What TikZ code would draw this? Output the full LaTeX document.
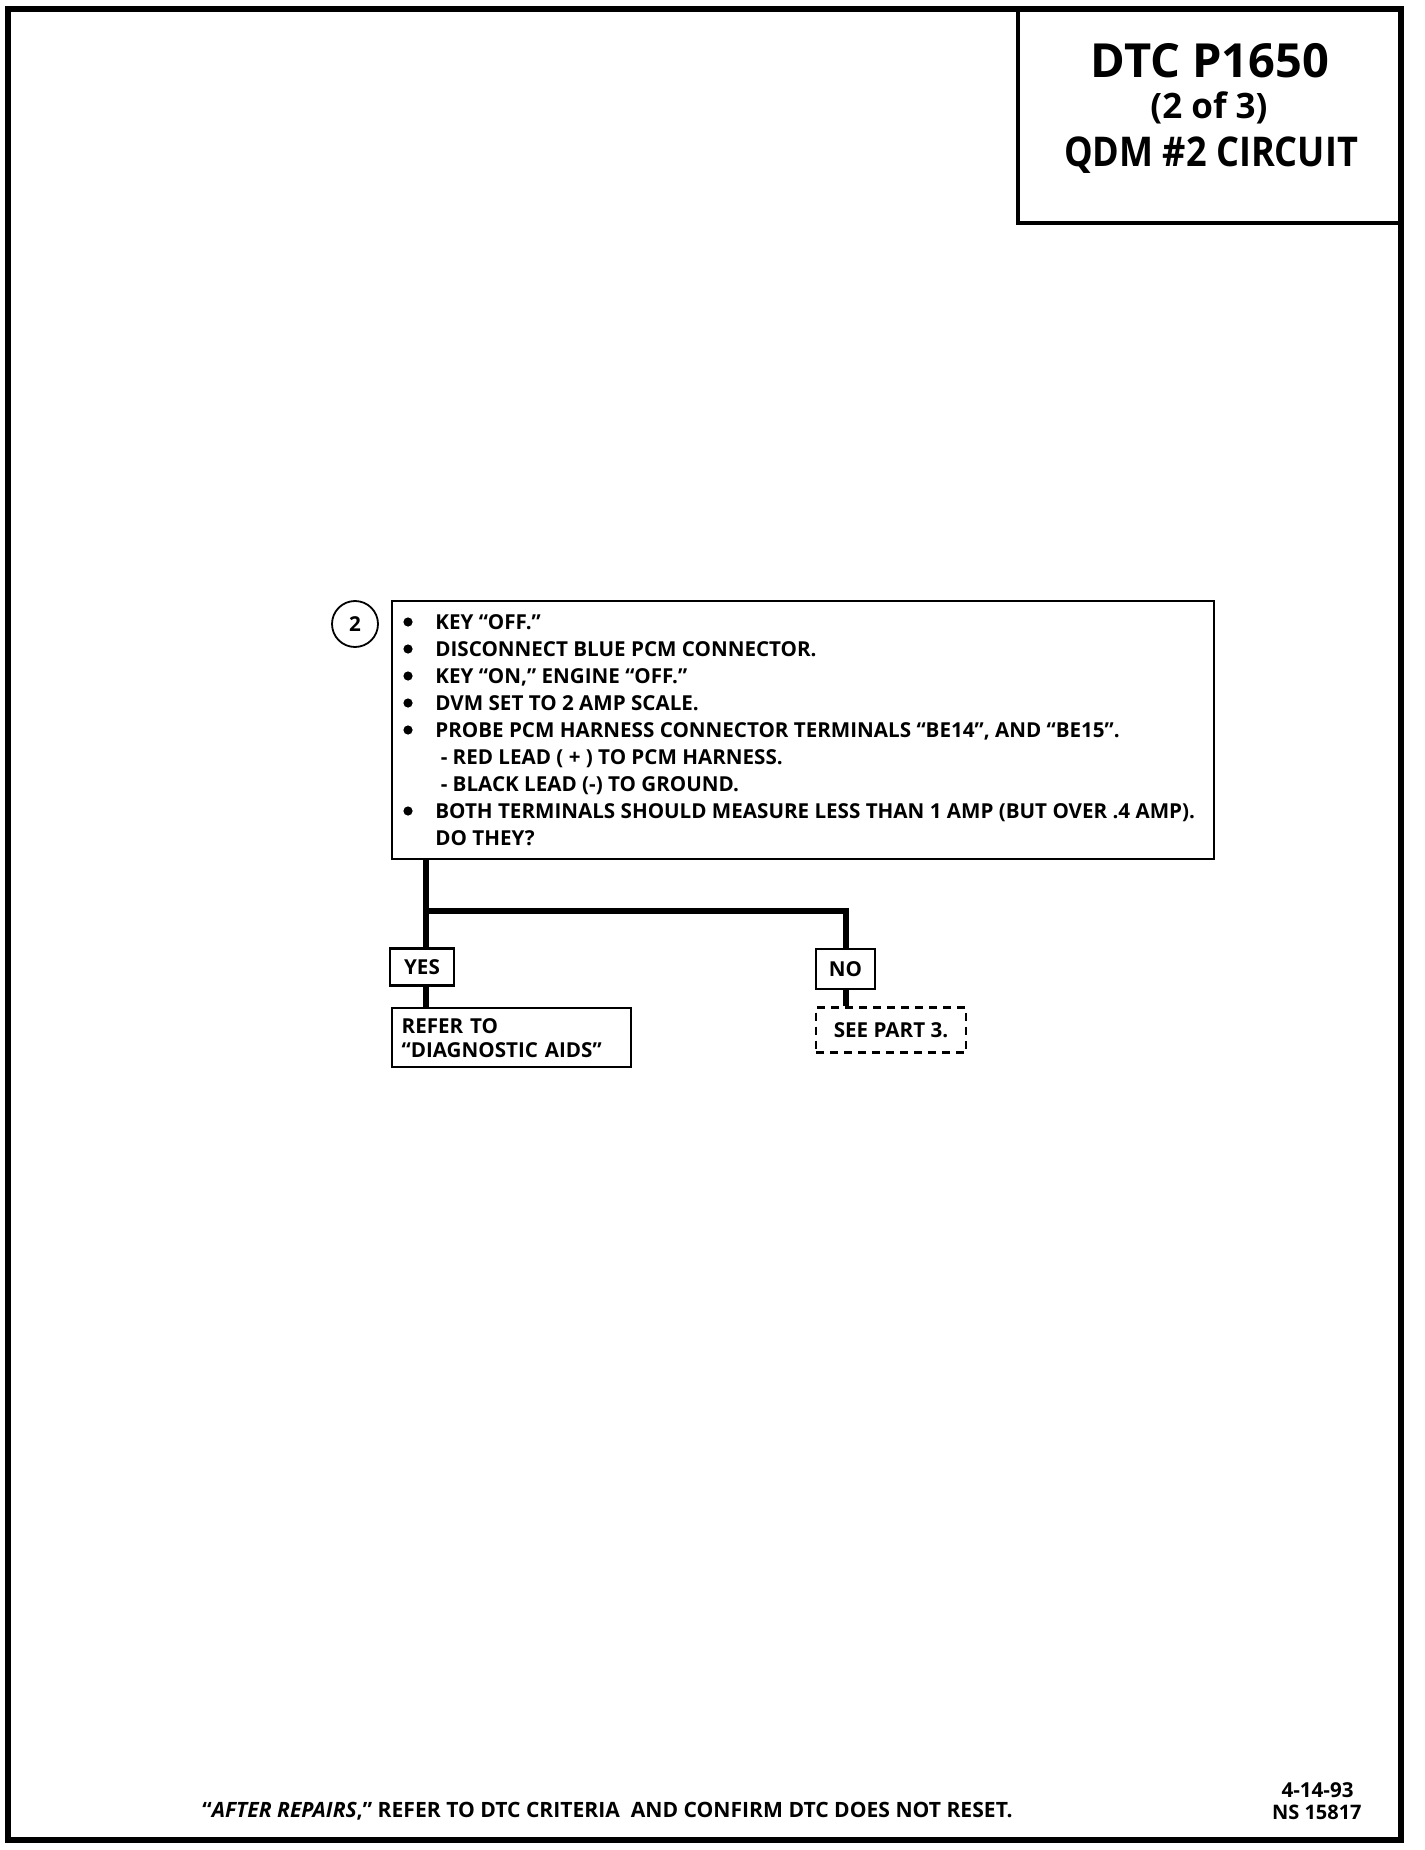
\documentclass[tikz,border=0pt]{standalone}
\usepackage{fontspec}
\setmainfont{Open Sans}
\usetikzlibrary{calc}
\tikzset{
  frame/.style={draw, line width=2.7pt},
  titlebox/.style={draw, line width=1.6pt},
  stepbox/.style={draw, line width=1.2pt},
  answer/.style={draw, line width=1.2pt, inner sep=0pt, font=\bodyfont},
  result/.style={draw, line width=1.2pt, inner sep=0pt, font=\bodyfont},
  dashbox/.style={draw, line width=1.1pt, dash pattern=on 4pt off 3pt, inner sep=0pt, font=\bodyfont},
  flow/.style={line width=3pt},
  txt/.style={anchor=base west, inner sep=0pt, font=\bodyfont},
}
\newcommand{\bodyfont}{\bfseries\fontsize{10.3}{12}\selectfont}
\begin{document}
\begin{tikzpicture}[x=0.5pt,y=-0.5pt]
\useasboundingbox (0,0) rectangle (1424,1850);
% outer frame
\draw[frame] (8,9) rectangle (1401,1840);
% title box
\draw[titlebox] (1018,9) -- (1018,223) -- (1401,223);
\node[font=\bfseries\fontsize{23.5}{26}\selectfont, anchor=base] (t1) at (1210,78) {DTC P1650};
\node[font=\bfseries\fontsize{17.5}{19}\selectfont, anchor=base] (t2) at (1209,119) {(2 of 3)};
\node[font=\bfseries\fontsize{20.5}{24}\selectfont, anchor=base] (t3) at (1211,167) {\scalebox{0.88}[1]{QDM \#2 CIRCUIT}};
% step box
\node[stepbox, minimum width=411pt, minimum height=129pt, anchor=north west, inner sep=0pt] (step) at (391,600) {};
\node[draw, circle, line width=0.9pt, minimum size=23pt, inner sep=0pt, font=\bodyfont] (num) at (355,624) {2};
\foreach \y in {629,656,683,710,737,818}{
  \fill ($(408,\y)+(0,-7)$) circle (2.3pt);
}
\node[txt] (l1) at (435,629) {KEY “OFF.”};
\node[txt] (l2) at (435,656) {DISCONNECT BLUE PCM CONNECTOR.};
\node[txt] (l3) at (435,683) {KEY “ON,” ENGINE “OFF.”};
\node[txt] (l4) at (435,710) {DVM SET TO 2 AMP SCALE.};
\node[txt] (l5) at (435,737) {PROBE PCM HARNESS CONNECTOR TERMINALS “BE14”, AND “BE15”.};
\node[txt] (l6) at (435,764) {\ - RED LEAD ( + ) TO PCM HARNESS.};
\node[txt] (l7) at (435,791) {\ - BLACK LEAD (-) TO GROUND.};
\node[txt] (l8) at (435,818) {BOTH TERMINALS SHOULD MEASURE LESS THAN 1 AMP (BUT OVER .4 AMP).};
\node[txt] (l9) at (435,845) {DO THEY?};
% answers
\node[answer, minimum width=32pt, minimum height=18.5pt] (yes) at (422,967) {YES};
\node[answer, minimum width=29.5pt, minimum height=20pt] (no) at (845.5,969) {NO};
\node[result, minimum width=119.5pt, minimum height=29.5pt, anchor=north west, align=left, text width=110pt] (refer) at (391,1007) {REFER TO\\“DIAGNOSTIC AIDS”};
\node[dashbox, minimum width=75pt, minimum height=22.5pt] (see) at (891,1030) {\raisebox{-1.5pt}{SEE PART 3.}};
% connectors
\coordinate (split) at (426,911);
\draw[flow] (step.south -| split) -- (split |- yes.north);
\draw[flow] (split) -| (no.north);
\draw[flow] (yes.south -| split) -- (split |- refer.north);
\draw[flow] (no.south) -- (no.south |- see.north);
% footer
\node[font=\bodyfont\fontsize{10.55}{12}\selectfont, anchor=base west, inner sep=0pt] (foot) at (202,1817) {“\textit{AFTER REPAIRS},” REFER TO DTC CRITERIA\ \ AND CONFIRM DTC DOES NOT RESET.};
\node[font=\bodyfont, anchor=base east, inner sep=0pt, align=right] (date) at (1354,1797) {4-14-93};
\node[font=\bodyfont\fontsize{10}{12}\selectfont, anchor=base east, inner sep=0pt] (ns) at (1362,1819) {NS 15817};
\end{tikzpicture}
\end{document}
